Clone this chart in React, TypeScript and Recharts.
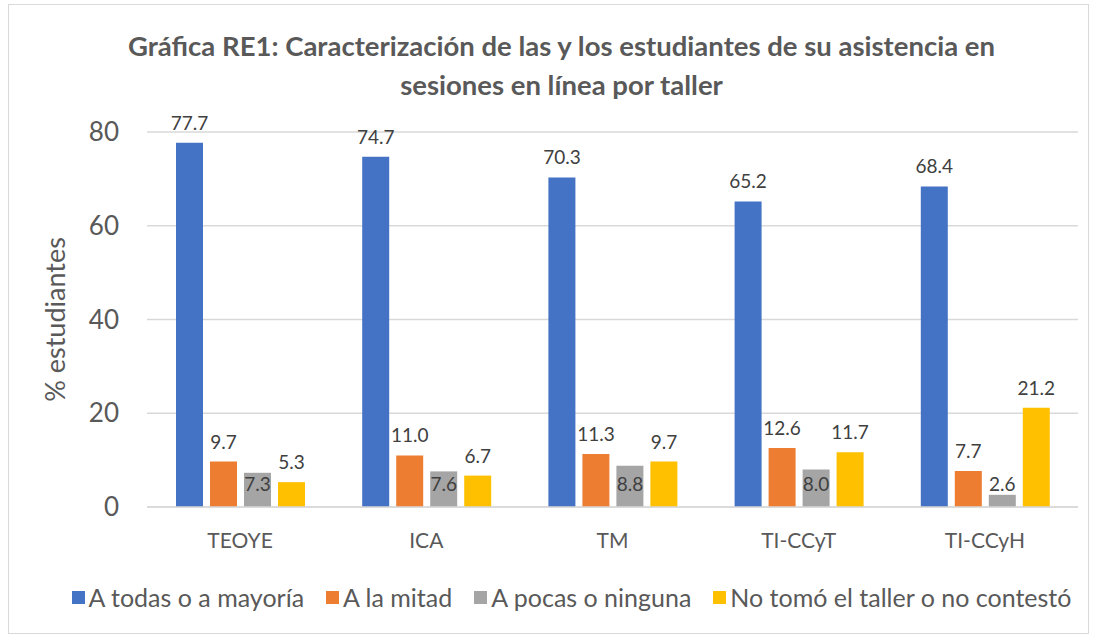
import { BarChart, Bar, XAxis, YAxis, CartesianGrid, Legend, LabelList } from 'recharts'

const talleres = ['TEOYE', 'ICA', 'TM', 'TI-CCyT', 'TI-CCyH']
const todasMayoria = [77.7, 74.7, 70.3, 65.2, 68.4]
const laMitad = [9.7, 11.0, 11.3, 12.6, 7.7]
const pocasNinguna = [7.3, 7.6, 8.8, 8.0, 2.6]
const noTomo = [5.3, 6.7, 9.7, 11.7, 21.2]
const yTicks = [0, 20, 40, 60, 80]

const series = [
  { key: 'todas', name: 'A todas o a mayoría', color: '#4472C4' },
  { key: 'mitad', name: 'A la mitad', color: '#ED7D31' },
  { key: 'pocas', name: 'A pocas o ninguna', color: '#A5A5A5' },
  { key: 'no', name: 'No tomó el taller o no contestó', color: '#FFC000' },
]

const data = talleres.map((t, i) => ({
  taller: t,
  todas: todasMayoria[i],
  mitad: laMitad[i],
  pocas: pocasNinguna[i],
  no: noTomo[i],
}))

const FONT = 'Lato, "Open Sans", sans-serif'

const fmt = (v: any) => Number(v).toFixed(1)

// gray series labels sit at a fixed height above the axis, like the original
const BaseLabel = (props: any) => {
  const { x, y, width, height, value } = props
  return (
    <text x={x + width / 2} y={y + height - 24} textAnchor="middle" dominantBaseline="central"
      fill="#404040" fontSize={19} fontFamily={FONT}>
      {fmt(value)}
    </text>
  )
}

const YLabel = (props: any) => {
  const { viewBox } = props
  const cy = viewBox.y + viewBox.height / 2
  return (
    <text x={45} y={cy} transform={`rotate(-90 45 ${cy})`} textAnchor="middle" dominantBaseline="central"
      fill="#595959" fontSize={27} fontFamily={FONT}>
      % estudiantes
    </text>
  )
}

const LegendBox = () => (
  <div style={{ display: 'flex', justifyContent: 'center', transform: 'translateX(28px)', whiteSpace: 'nowrap', fontFamily: FONT, fontSize: 25, color: '#595959', height: 28, alignItems: 'center' }}>
    {series.map((s, i) => (
      <div key={s.key} style={{ display: 'flex', alignItems: 'center', flexShrink: 0, marginRight: i < series.length - 1 ? 22 : 0 }}>
        <span style={{ width: 13, height: 13, background: s.color, display: 'inline-block', marginRight: 4 }} />
        <span>{s.name}</span>
      </div>
    ))}
  </div>
)

export default function App() {
  return (
    <div style={{ position: 'absolute', left: 8, top: 4, width: 1079, height: 628, border: '1px solid #d9d9d9', background: '#fff' }}>
      <div style={{ position: 'absolute', top: 21, left: 13, width: 1079, textAlign: 'center', fontFamily: FONT, fontWeight: 700, fontSize: 27.5, lineHeight: '39px', color: '#595959' }}>
        Gráfica RE1: Caracterización de las y los estudiantes de su asistencia en<br />sesiones en línea por taller
      </div>
      <BarChart width={1079} height={628} data={data} barSize={27} barGap={7}
        margin={{ top: 127, right: 10, bottom: 22, left: 0 }}>
        <CartesianGrid vertical={false} stroke="#d9d9d9" strokeWidth={1.5} />
        <XAxis dataKey="taller" height={76} tickLine={false} tickSize={0} tickMargin={26}
          axisLine={{ stroke: '#d9d9d9', strokeWidth: 1.5 }}
          tick={{ fill: '#595959', fontSize: 21, fontFamily: FONT }} />
        <YAxis domain={[0, 80]} ticks={yTicks} width={138} tickLine={false} axisLine={false}
          tickSize={0} tickMargin={28} tick={{ fill: '#595959', fontSize: 26, fontFamily: FONT }}
          label={<YLabel />} />
        <Legend verticalAlign="bottom" content={<LegendBox />} />
        {series.map((s) => (
          <Bar key={s.key} dataKey={s.key} name={s.name} fill={s.color} isAnimationActive={false}>
            {s.key === 'pocas' ? (
              <LabelList dataKey={s.key} content={<BaseLabel />} />
            ) : (
              <LabelList dataKey={s.key} position="top" offset={13} formatter={fmt}
                fill="#404040" fontSize={19} fontFamily={FONT} />
            )}
          </Bar>
        ))}
      </BarChart>
    </div>
  )
}
